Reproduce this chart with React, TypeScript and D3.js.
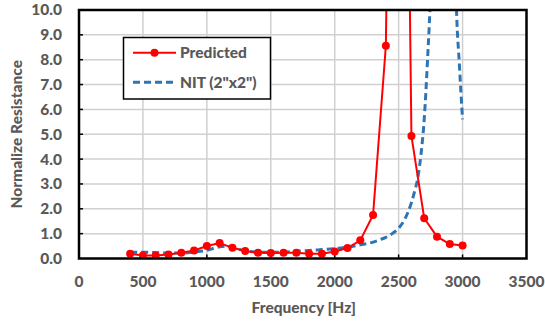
import React from "react";
import * as d3 from "d3";

const predFreq = [400, 500, 600, 700, 800, 900, 1000, 1100, 1200, 1300, 1400, 1500, 1600, 1700, 1800, 1900, 2000, 2100, 2200, 2300, 2400, 2500, 2600, 2700, 2800, 2900, 3000];
const predVal = [0.19, 0.12, 0.12, 0.16, 0.23, 0.32, 0.5, 0.62, 0.43, 0.3, 0.23, 0.22, 0.23, 0.23, 0.19, 0.19, 0.28, 0.42, 0.73, 1.75, 8.56, 48, 4.93, 1.62, 0.88, 0.58, 0.52];

const nitFreq = [400, 500, 600, 700, 800, 900, 1000, 1050, 1100, 1150, 1200, 1250, 1300, 1400, 1500, 1600, 1700, 1800, 1900, 2000, 2100, 2200, 2300, 2350, 2400, 2450, 2500, 2550, 2600, 2625, 2650, 2675, 2700, 2725, 2750, 2775, 2800, 2850, 2900, 2925, 2950, 2975, 3000];
const nitVal = [0.25, 0.25, 0.24, 0.22, 0.22, 0.26, 0.33, 0.4, 0.47, 0.5, 0.45, 0.37, 0.31, 0.26, 0.25, 0.26, 0.29, 0.32, 0.36, 0.4, 0.46, 0.55, 0.66, 0.75, 0.85, 1.0, 1.22, 1.6, 2.25, 2.7, 3.25, 4.2, 5.6, 7.9, 10.8, 16, 30, 60, 30, 18, 10.5, 7.8, 5.6];

const xTicks = [0, 500, 1000, 1500, 2000, 2500, 3000, 3500];
const yTicks = [0, 1, 2, 3, 4, 5, 6, 7, 8, 9, 10];

const seriesNames = ["Predicted", 'NIT (2"x2")'];

const W = 545, H = 325;
const L = 79, R = 526.5, T = 10, B = 258.5;
const FONT = "Lato, 'Open Sans', sans-serif";
const TXT = "#595959";
const FS = 15.5;
const FW = 900;

export default function App() {
  const x = d3.scaleLinear().domain([0, 3500]).range([L, R]);
  const y = d3.scaleLinear().domain([0, 10]).range([B, T]);
  const line = d3.line<[number, number]>().x(d => x(d[0])).y(d => y(d[1]));
  const pred: [number, number][] = predFreq.map((f, i) => [f, predVal[i]]);
  const nit: [number, number][] = nitFreq.map((f, i) => [f, nitVal[i]]);
  const nitLine = d3.line<[number, number]>().x(d => x(d[0])).y(d => y(d[1])).curve(d3.curveMonotoneX);
  return (
    <svg width={W} height={H} style={{ position: "absolute", left: 0, top: 0 }}>
      <rect x={0} y={0} width={W} height={H} fill="#fff" />
      <defs>
        <clipPath id="plot">
          <rect x={L} y={T} width={R - L} height={B - T} />
        </clipPath>
      </defs>
      {yTicks.slice(1, -1).map(t => (
        <line key={"gy" + t} x1={L} x2={R} y1={y(t)} y2={y(t)} stroke="#d0d0d0" strokeWidth={1.5} />
      ))}
      {xTicks.slice(1, -1).map(t => (
        <line key={"gx" + t} x1={x(t)} x2={x(t)} y1={T} y2={B} stroke="#d0d0d0" strokeWidth={1.5} />
      ))}
      {yTicks.slice(1, -1).map(t => (
        <line key={"ty" + t} x1={L} x2={L + 4} y1={y(t)} y2={y(t)} stroke="#000" strokeWidth={1.5} />
      ))}
      {xTicks.slice(1, -1).map(t => (
        <line key={"tx" + t} x1={x(t)} x2={x(t)} y1={B} y2={B - 4} stroke="#000" strokeWidth={1.5} />
      ))}
      <g clipPath="url(#plot)">
        <path d={nitLine(nit) || ""} fill="none" stroke="#2e75b6" strokeWidth={3} strokeDasharray="7,4" />
        <path d={line(pred) || ""} fill="none" stroke="#ff0000" strokeWidth={2} />
        {pred.filter(d => d[1] <= 10).map((d, i) => (
          <circle key={i} cx={x(d[0])} cy={y(d[1])} r={4} fill="#ff0000" />
        ))}
      </g>
      <rect x={L} y={T} width={R - L} height={B - T} fill="none" stroke="#000" strokeWidth={2.5} />
      {yTicks.map(t => (
        <text key={"ly" + t} x={62} y={y(t)} dy="0.35em" textAnchor="end" fontFamily={FONT} fontWeight={FW} fontSize={FS} fill={TXT}>
          {t.toFixed(1)}
        </text>
      ))}
      {xTicks.map(t => (
        <text key={"lx" + t} x={x(t)} y={282} dy="0.35em" textAnchor="middle" fontFamily={FONT} fontWeight={FW} fontSize={FS} fill={TXT}>
          {t}
        </text>
      ))}
      <text x={(L + R) / 2 + 1} y={308} dy="0.35em" textAnchor="middle" fontFamily={FONT} fontWeight={FW} fontSize={FS} fill={TXT}>
        Frequency [Hz]
      </text>
      <text transform={`translate(17,${(T + B) / 2}) rotate(-90)`} dy="0.35em" textAnchor="middle" fontFamily={FONT} fontWeight={FW} fontSize={FS} fill={TXT}>
        Normalize Resistance
      </text>
      <g>
        <rect x={123.5} y={37.5} width={147} height={61.5} fill="#fff" stroke="#000" strokeWidth={1.5} />
        <line x1={133} x2={176} y1={52.7} y2={52.7} stroke="#ff0000" strokeWidth={2} />
        <circle cx={154.5} cy={52.7} r={4} fill="#ff0000" />
        <text x={180} y={52.7} dy="0.35em" fontFamily={FONT} fontWeight={FW} fontSize={FS} fill={TXT}>{seriesNames[0]}</text>
        <line x1={133} x2={176} y1={82.3} y2={82.3} stroke="#2e75b6" strokeWidth={3} strokeDasharray="7,4" />
        <text x={180} y={82.3} dy="0.35em" fontFamily={FONT} fontWeight={FW} fontSize={FS} fill={TXT}>{seriesNames[1]}</text>
      </g>
    </svg>
  );
}
